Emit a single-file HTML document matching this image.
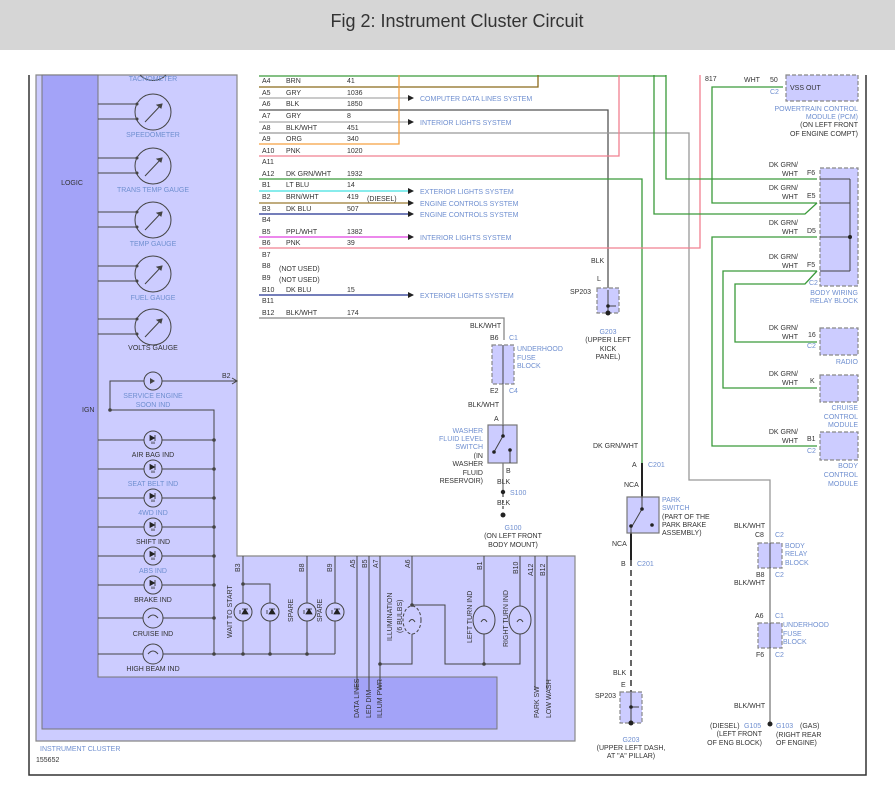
<!DOCTYPE html>
<html><head><meta charset="utf-8"><style>
html,body{margin:0;padding:0;background:#fff;}
svg{display:block;}
text{font-family:"Liberation Sans",sans-serif;font-size:7px;fill:#333;}
.b{fill:#6f8fd0;}
.t{font-size:18px;fill:#333;}
</style></head><body>
<svg width="895" height="787" viewBox="0 0 895 787" xmlns="http://www.w3.org/2000/svg">
<defs>
<g id="d"><path d="M-3 -2.5L1.5 0L-3 2.5Z M2 -3V3" fill="#222" stroke="#222" stroke-width="0.8"/><path d="M-1 3.5V6M1 3.5V6" stroke="#222" stroke-width="0.8"/></g>
<g id="l"><path d="M0 -3L3 2H-3Z M-3 -3H3" fill="#222" stroke="#222" stroke-width="0.8"/><path d="M-6 -1H-4M-6 1H-4" stroke="#222" stroke-width="0.8"/></g>
</defs>
<rect x="0" y="0" width="895" height="50" fill="#d6d6d6"/>
<text x="457" y="27" text-anchor="middle" class="t">Fig 2: Instrument Cluster Circuit</text>
<path d="M29 75 V775 H866 V75" fill="none" stroke="#333" stroke-width="1.5"/>
<path d="M36 75 H237 V556 H575 V741 H36 Z" fill="#ccccff" stroke="#888" stroke-width="1.2"/>
<path d="M42 75 H98 V677 H497 V729 H42 Z" fill="#a3a3f8" stroke="#777" stroke-width="1"/>
<path d="M98 75 V677" stroke="#777" stroke-width="1"/>
<text x="72" y="185" text-anchor="middle">LOGIC</text>
<text x="82" y="412">IGN</text>
<text x="40" y="751" class="b">INSTRUMENT CLUSTER</text>
<text x="36" y="762">155652</text>
<g fill="none" stroke="#444" stroke-width="1">
<path d="M140 75 A18 18 0 0 0 166 75"/>
<g id="g">
<circle cx="153" cy="112" r="18"/><path d="M98 104H137M98 119H137M145 122L162 104"/><path d="M162 104l-5 1l4 3z" fill="#444"/>
</g>
<use href="#g" y="54"/><use href="#g" y="108"/><use href="#g" y="162"/><use href="#g" y="215"/>
</g>
<g fill="#444"><circle cx="137" cy="104" r="1.5"/><circle cx="137" cy="119" r="1.5"/><circle cx="137" cy="158" r="1.5"/><circle cx="137" cy="173" r="1.5"/><circle cx="137" cy="212" r="1.5"/><circle cx="137" cy="227" r="1.5"/><circle cx="137" cy="266" r="1.5"/><circle cx="137" cy="281" r="1.5"/><circle cx="137" cy="319" r="1.5"/><circle cx="137" cy="334" r="1.5"/></g>
<text x="153" y="81" text-anchor="middle" class="b">TACHOMETER</text>
<text x="153" y="137" text-anchor="middle" class="b">SPEEDOMETER</text>
<text x="153" y="192" text-anchor="middle" class="b">TRANS TEMP GAUGE</text>
<text x="153" y="246" text-anchor="middle" class="b">TEMP GAUGE</text>
<text x="153" y="300" text-anchor="middle" class="b">FUEL GAUGE</text>
<text x="153" y="350" text-anchor="middle">VOLTS GAUGE</text>
<g fill="none" stroke="#444" stroke-width="1">
<path d="M110 410V381H237M232 378l5 3l-5 3"/>
<circle cx="153" cy="381" r="9" fill="#ccccff"/>
<path d="M110 410H214V654M98 440H214M98 469H214M98 498H214M98 527H214M98 556H214M98 585H214M98 618H214M98 654H335"/>
<circle cx="153" cy="440" r="9" fill="#ccccff"/><circle cx="153" cy="469" r="9" fill="#ccccff"/><circle cx="153" cy="498" r="9" fill="#ccccff"/><circle cx="153" cy="527" r="9" fill="#ccccff"/><circle cx="153" cy="556" r="9" fill="#ccccff"/><circle cx="153" cy="585" r="9" fill="#ccccff"/>
<circle cx="153" cy="618" r="10" fill="#ccccff"/><circle cx="153" cy="654" r="10" fill="#ccccff"/>
<path d="M148 618q5 -6 10 0M148 654q5 -6 10 0"/>
<path d="M243 556V654M243 584H270V654M307 556V654M335 556V654"/>
<circle cx="243" cy="612" r="9" fill="#ccccff"/><circle cx="270" cy="612" r="9" fill="#ccccff"/><circle cx="307" cy="612" r="9" fill="#ccccff"/><circle cx="335" cy="612" r="9" fill="#ccccff"/>
<path d="M357 556V690M369 556V690M380 556V690M380 664H412V556M412 605H445V664H520V556M484 556V664M535 556V690M547 556V690"/>
<ellipse cx="412" cy="620" rx="9" ry="14" fill="#ccccff" stroke-dasharray="3 2"/>
<ellipse cx="484" cy="620" rx="11" ry="14" fill="#ccccff"/><ellipse cx="520" cy="620" rx="11" ry="14" fill="#ccccff"/>
<path d="M409 622q3 -5 6 0M481 622q3 -5 6 0M517 622q3 -5 6 0"/>
</g>
<g fill="#444">
<path d="M150 378v6l5-3z"/>
<circle cx="110" cy="410" r="1.8"/>
<circle cx="214" cy="440" r="1.8"/><circle cx="214" cy="469" r="1.8"/><circle cx="214" cy="498" r="1.8"/><circle cx="214" cy="527" r="1.8"/><circle cx="214" cy="556" r="1.8"/><circle cx="214" cy="585" r="1.8"/><circle cx="214" cy="618" r="1.8"/><circle cx="214" cy="654" r="1.8"/>
<circle cx="243" cy="654" r="1.8"/><circle cx="270" cy="654" r="1.8"/><circle cx="307" cy="654" r="1.8"/><circle cx="243" cy="584" r="1.8"/>
<circle cx="380" cy="664" r="1.8"/><circle cx="412" cy="605" r="1.8"/><circle cx="484" cy="664" r="1.8"/>
</g>
<use href="#d" x="153" y="438"/><use href="#d" x="153" y="467"/><use href="#d" x="153" y="496"/><use href="#d" x="153" y="525"/><use href="#d" x="153" y="554"/><use href="#d" x="153" y="583"/>
<use href="#l" x="245" y="612"/><use href="#l" x="272" y="612"/><use href="#l" x="309" y="612"/><use href="#l" x="337" y="612"/>
<text x="153" y="398" text-anchor="middle" class="b">SERVICE ENGINE</text>
<text x="153" y="407" text-anchor="middle" class="b">SOON IND</text>
<text x="153" y="457" text-anchor="middle">AIR BAG IND</text>
<text x="153" y="486" text-anchor="middle" class="b">SEAT BELT IND</text>
<text x="153" y="515" text-anchor="middle" class="b">4WD IND</text>
<text x="153" y="544" text-anchor="middle">SHIFT IND</text>
<text x="153" y="573" text-anchor="middle" class="b">ABS IND</text>
<text x="153" y="602" text-anchor="middle">BRAKE IND</text>
<text x="153" y="636" text-anchor="middle">CRUISE IND</text>
<text x="153" y="671" text-anchor="middle">HIGH BEAM IND</text>
<text x="222" y="378">B2</text>
<g>
<text transform="translate(240,572) rotate(-90)">B3</text>
<text transform="translate(304,572) rotate(-90)">B8</text>
<text transform="translate(332,572) rotate(-90)">B9</text>
<text transform="translate(355,568) rotate(-90)">A5</text>
<text transform="translate(367,568) rotate(-90)">B5</text>
<text transform="translate(378,568) rotate(-90)">A7</text>
<text transform="translate(410,568) rotate(-90)">A6</text>
<text transform="translate(482,570) rotate(-90)">B1</text>
<text transform="translate(518,574) rotate(-90)">B10</text>
<text transform="translate(533,576) rotate(-90)">A12</text>
<text transform="translate(545,576) rotate(-90)">B12</text>
<text transform="translate(232,638) rotate(-90)">WAIT TO START</text>
<text transform="translate(293,622) rotate(-90)">SPARE</text>
<text transform="translate(322,622) rotate(-90)">SPARE</text>
<text transform="translate(392,641) rotate(-90)">ILLUMINATION</text>
<text transform="translate(402,633) rotate(-90)">(6 BULBS)</text>
<text transform="translate(472,643) rotate(-90)">LEFT TURN IND</text>
<text transform="translate(508,647) rotate(-90)">RIGHT TURN IND</text>
<text transform="translate(359,718) rotate(-90)">DATA LINES</text>
<text transform="translate(371,718) rotate(-90)">LED DIM</text>
<text transform="translate(382,718) rotate(-90)">ILLUM PWR</text>
<text transform="translate(539,718) rotate(-90)">PARK SW</text>
<text transform="translate(551,718) rotate(-90)">LOW WASH</text>
</g>
<g fill="none" stroke-width="1.3">
<path d="M259 76H666" stroke="#3a9a3a"/>
<path d="M259 87H538V75" stroke="#8b6a1a"/>
<path d="M259 98H413" stroke="#aaa"/>
<path d="M259 110H608V290" stroke="#555"/>
<path d="M259 122H413" stroke="#aaa"/>
<path d="M259 133H689V480H770V543" stroke="#999"/>
<path d="M259 144H399V75" stroke="#f5a040"/>
<path d="M259 156H619V75" stroke="#f08090"/>
<path d="M259 179H642V463" stroke="#3a9a3a"/>
<path d="M259 191H413" stroke="#40e0e0"/>
<path d="M259 203H413" stroke="#9a7a30"/>
<path d="M259 214H413" stroke="#203090"/>
<path d="M259 237H413" stroke="#e040e0"/>
<path d="M259 248H700V75" stroke="#f08090"/>
<path d="M259 295H413" stroke="#203090"/>
<path d="M259 318H504V340" stroke="#888"/>
<path d="M654 75V214H805L817 203" stroke="#3a9a3a"/>
<path d="M666 75V179H817" stroke="#3a9a3a"/>
<path d="M783 87H712V203H817" stroke="#3a9a3a"/>
<path d="M817 237H712V446H817" stroke="#3a9a3a"/>
<path d="M817 271H723V388H817" stroke="#3a9a3a"/>
<path d="M817 271L805 284H735V342H817" stroke="#3a9a3a"/>
<path d="M642 463V497M631 533V560" stroke="#222" stroke-width="2"/>
<path d="M631 560V692" stroke="#666" stroke-width="2" stroke-dasharray="6 4"/>
<path d="M770 568V623M770 648V722" stroke="#555" stroke-width="1"/>
<path d="M503 384V425M503 463V490" stroke="#555" stroke-width="1"/>
<path d="M503 494V512" stroke="#555" stroke-dasharray="3 3"/>
</g>
<g fill="#222">
<path d="M408 95l6 3l-6 3zM408 119l6 3l-6 3zM408 188l6 3l-6 3zM408 200l6 3l-6 3zM408 211l6 3l-6 3zM408 234l6 3l-6 3zM408 292l6 3l-6 3z"/>
</g>
<g>
<text x="262" y="83">A4</text><text x="286" y="83">BRN</text><text x="347" y="83">41</text>
<text x="262" y="95">A5</text><text x="286" y="95">GRY</text><text x="347" y="95">1036</text>
<text x="262" y="106">A6</text><text x="286" y="106">BLK</text><text x="347" y="106">1850</text>
<text x="262" y="118">A7</text><text x="286" y="118">GRY</text><text x="347" y="118">8</text>
<text x="262" y="130">A8</text><text x="286" y="130">BLK/WHT</text><text x="347" y="130">451</text>
<text x="262" y="141">A9</text><text x="286" y="141">ORG</text><text x="347" y="141">340</text>
<text x="262" y="153">A10</text><text x="286" y="153">PNK</text><text x="347" y="153">1020</text>
<text x="262" y="164">A11</text>
<text x="262" y="176">A12</text><text x="286" y="176">DK GRN/WHT</text><text x="347" y="176">1932</text>
<text x="262" y="187">B1</text><text x="286" y="187">LT BLU</text><text x="347" y="187">14</text>
<text x="262" y="199">B2</text><text x="286" y="199">BRN/WHT</text><text x="347" y="199">419</text><text x="367" y="201">(DIESEL)</text>
<text x="262" y="211">B3</text><text x="286" y="211">DK BLU</text><text x="347" y="211">507</text>
<text x="262" y="222">B4</text>
<text x="262" y="234">B5</text><text x="286" y="234">PPL/WHT</text><text x="347" y="234">1382</text>
<text x="262" y="245">B6</text><text x="286" y="245">PNK</text><text x="347" y="245">39</text>
<text x="262" y="257">B7</text>
<text x="262" y="268">B8</text><text x="279" y="271">(NOT USED)</text>
<text x="262" y="280">B9</text><text x="279" y="282">(NOT USED)</text>
<text x="262" y="292">B10</text><text x="286" y="292">DK BLU</text><text x="347" y="292">15</text>
<text x="262" y="303">B11</text>
<text x="262" y="315">B12</text><text x="286" y="315">BLK/WHT</text><text x="347" y="315">174</text>
</g>
<g>
<text x="420" y="101" class="b">COMPUTER DATA LINES SYSTEM</text>
<text x="420" y="125" class="b">INTERIOR LIGHTS SYSTEM</text>
<text x="420" y="194" class="b">EXTERIOR LIGHTS SYSTEM</text>
<text x="420" y="206" class="b">ENGINE CONTROLS SYSTEM</text>
<text x="420" y="217" class="b">ENGINE CONTROLS SYSTEM</text>
<text x="420" y="240" class="b">INTERIOR LIGHTS SYSTEM</text>
<text x="420" y="298" class="b">EXTERIOR LIGHTS SYSTEM</text>
</g>
<g fill="#ccccff" stroke="#888" stroke-width="1.2" stroke-dasharray="4 2">
<rect x="786" y="75" width="72" height="26"/>
<rect x="820" y="168" width="38" height="118"/>
<rect x="820" y="328" width="38" height="27"/>
<rect x="820" y="375" width="38" height="27"/>
<rect x="820" y="432" width="38" height="28"/>
<rect x="492" y="345" width="22" height="39"/>
<rect x="597" y="288" width="22" height="25"/>
<rect x="620" y="692" width="22" height="31"/>
<rect x="758" y="543" width="24" height="25"/>
<rect x="758" y="623" width="24" height="25"/>
</g>
<g fill="#ccccff" stroke="#777" stroke-width="1.2">
<rect x="488" y="425" width="29" height="38"/>
<rect x="627" y="497" width="32" height="36"/>
</g>
<g fill="none" stroke="#444" stroke-width="1">
<path d="M850 179V271M820 179H850M820 203H850M820 237H850M820 271H850"/>
<path d="M503 345V384M770 543V568M770 623V648M608 290V313M608 306H616M631 692V723M631 707H639"/>
<path d="M503 425V436L494 452M510 450V463"/>
<path d="M642 497V509L631 528V533"/>
</g>
<g fill="#222">
<circle cx="850" cy="237" r="2"/><circle cx="503" cy="436" r="1.8"/><circle cx="494" cy="452" r="1.8"/><circle cx="510" cy="450" r="1.8"/>
<circle cx="642" cy="509" r="1.8"/><circle cx="631" cy="526" r="1.8"/><circle cx="652" cy="525" r="1.8"/>
<circle cx="608" cy="306" r="1.8"/><circle cx="608" cy="313" r="2.5"/><circle cx="631" cy="707" r="1.8"/><circle cx="631" cy="723" r="2.5"/>
<circle cx="503" cy="492" r="2.2"/><circle cx="503" cy="515" r="2.5"/><circle cx="770" cy="724" r="2.5"/>
</g>
<g>
<text x="744" y="82">WHT</text><text x="770" y="82">50</text><text x="770" y="94" class="b">C2</text>
<text x="790" y="90">VSS OUT</text>
<text x="858" y="111" text-anchor="end" class="b">POWERTRAIN CONTROL</text>
<text x="858" y="119" text-anchor="end" class="b">MODULE (PCM)</text>
<text x="858" y="127" text-anchor="end">(ON LEFT FRONT</text>
<text x="858" y="136" text-anchor="end">OF ENGINE COMPT)</text>
<text x="705" y="81">817</text>
<text x="798" y="167" text-anchor="end">DK GRN/</text><text x="798" y="176" text-anchor="end">WHT</text><text x="807" y="175">F6</text>
<text x="798" y="190" text-anchor="end">DK GRN/</text><text x="798" y="199" text-anchor="end">WHT</text><text x="807" y="198">E5</text>
<text x="798" y="225" text-anchor="end">DK GRN/</text><text x="798" y="234" text-anchor="end">WHT</text><text x="807" y="233">D5</text>
<text x="798" y="259" text-anchor="end">DK GRN/</text><text x="798" y="268" text-anchor="end">WHT</text><text x="807" y="267">F5</text>
<text x="809" y="285" class="b">C2</text>
<text x="858" y="295" text-anchor="end" class="b">BODY WIRING</text>
<text x="858" y="303" text-anchor="end" class="b">RELAY BLOCK</text>
<text x="798" y="330" text-anchor="end">DK GRN/</text><text x="798" y="339" text-anchor="end">WHT</text><text x="808" y="337">16</text><text x="807" y="348" class="b">C2</text>
<text x="858" y="364" text-anchor="end" class="b">RADIO</text>
<text x="798" y="376" text-anchor="end">DK GRN/</text><text x="798" y="385" text-anchor="end">WHT</text><text x="810" y="383">K</text>
<text x="858" y="410" text-anchor="end" class="b">CRUISE</text><text x="858" y="419" text-anchor="end" class="b">CONTROL</text><text x="858" y="427" text-anchor="end" class="b">MODULE</text>
<text x="798" y="434" text-anchor="end">DK GRN/</text><text x="798" y="443" text-anchor="end">WHT</text><text x="807" y="441">B1</text><text x="807" y="453" class="b">C2</text>
<text x="858" y="468" text-anchor="end" class="b">BODY</text><text x="858" y="477" text-anchor="end" class="b">CONTROL</text><text x="858" y="486" text-anchor="end" class="b">MODULE</text>
<text x="591" y="263">BLK</text><text x="597" y="281">L</text><text x="570" y="294">SP203</text>
<text x="608" y="334" text-anchor="middle" class="b">G203</text>
<text x="608" y="342" text-anchor="middle">(UPPER LEFT</text><text x="608" y="351" text-anchor="middle">KICK</text><text x="608" y="359" text-anchor="middle">PANEL)</text>
<text x="470" y="328">BLK/WHT</text><text x="490" y="340">B6</text><text x="509" y="340" class="b">C1</text>
<text x="517" y="351" class="b">UNDERHOOD</text><text x="517" y="360" class="b">FUSE</text><text x="517" y="368" class="b">BLOCK</text>
<text x="490" y="393">E2</text><text x="509" y="393" class="b">C4</text>
<text x="468" y="407">BLK/WHT</text><text x="494" y="421">A</text>
<text x="483" y="433" text-anchor="end" class="b">WASHER</text><text x="483" y="441" text-anchor="end" class="b">FLUID LEVEL</text><text x="483" y="449" text-anchor="end" class="b">SWITCH</text>
<text x="483" y="458" text-anchor="end">(IN</text><text x="483" y="466" text-anchor="end">WASHER</text><text x="483" y="475" text-anchor="end">FLUID</text><text x="483" y="483" text-anchor="end">RESERVOIR)</text>
<text x="506" y="473">B</text><text x="497" y="484">BLK</text><text x="510" y="495" class="b">S100</text><text x="497" y="505">BLK</text>
<text x="513" y="530" text-anchor="middle" class="b">G100</text>
<text x="513" y="538" text-anchor="middle">(ON LEFT FRONT</text><text x="513" y="547" text-anchor="middle">BODY MOUNT)</text>
<text x="593" y="448">DK GRN/WHT</text>
<text x="632" y="467">A</text><text x="648" y="467" class="b">C201</text>
<text x="624" y="487">NCA</text>
<text x="662" y="502" class="b">PARK</text><text x="662" y="510" class="b">SWITCH</text><text x="662" y="519">(PART OF THE</text><text x="662" y="527">PARK BRAKE</text><text x="662" y="535">ASSEMBLY)</text>
<text x="612" y="546">NCA</text>
<text x="621" y="566">B</text><text x="637" y="566" class="b">C201</text>
<text x="613" y="675">BLK</text><text x="621" y="687">E</text><text x="595" y="698">SP203</text>
<text x="631" y="742" text-anchor="middle" class="b">G203</text>
<text x="631" y="750" text-anchor="middle">(UPPER LEFT DASH,</text><text x="631" y="758" text-anchor="middle">AT "A" PILLAR)</text>
<text x="734" y="528">BLK/WHT</text><text x="755" y="537">C8</text><text x="775" y="537" class="b">C2</text>
<text x="785" y="548" class="b">BODY</text><text x="785" y="556" class="b">RELAY</text><text x="785" y="565" class="b">BLOCK</text>
<text x="756" y="577">B8</text><text x="775" y="577" class="b">C2</text><text x="734" y="585">BLK/WHT</text>
<text x="755" y="618">A6</text><text x="775" y="618" class="b">C1</text>
<text x="783" y="627" class="b">UNDERHOOD</text><text x="783" y="636" class="b">FUSE</text><text x="783" y="644" class="b">BLOCK</text>
<text x="756" y="657">F6</text><text x="775" y="657" class="b">C2</text>
<text x="734" y="708">BLK/WHT</text>
<text x="710" y="728">(DIESEL)</text><text x="744" y="728" class="b">G105</text><text x="776" y="728" class="b">G103</text><text x="800" y="728">(GAS)</text>
<text x="762" y="736" text-anchor="end">(LEFT FRONT</text><text x="762" y="745" text-anchor="end">OF ENG BLOCK)</text>
<text x="776" y="737">(RIGHT REAR</text><text x="776" y="745">OF ENGINE)</text>
</g>
</svg>
</body></html>
